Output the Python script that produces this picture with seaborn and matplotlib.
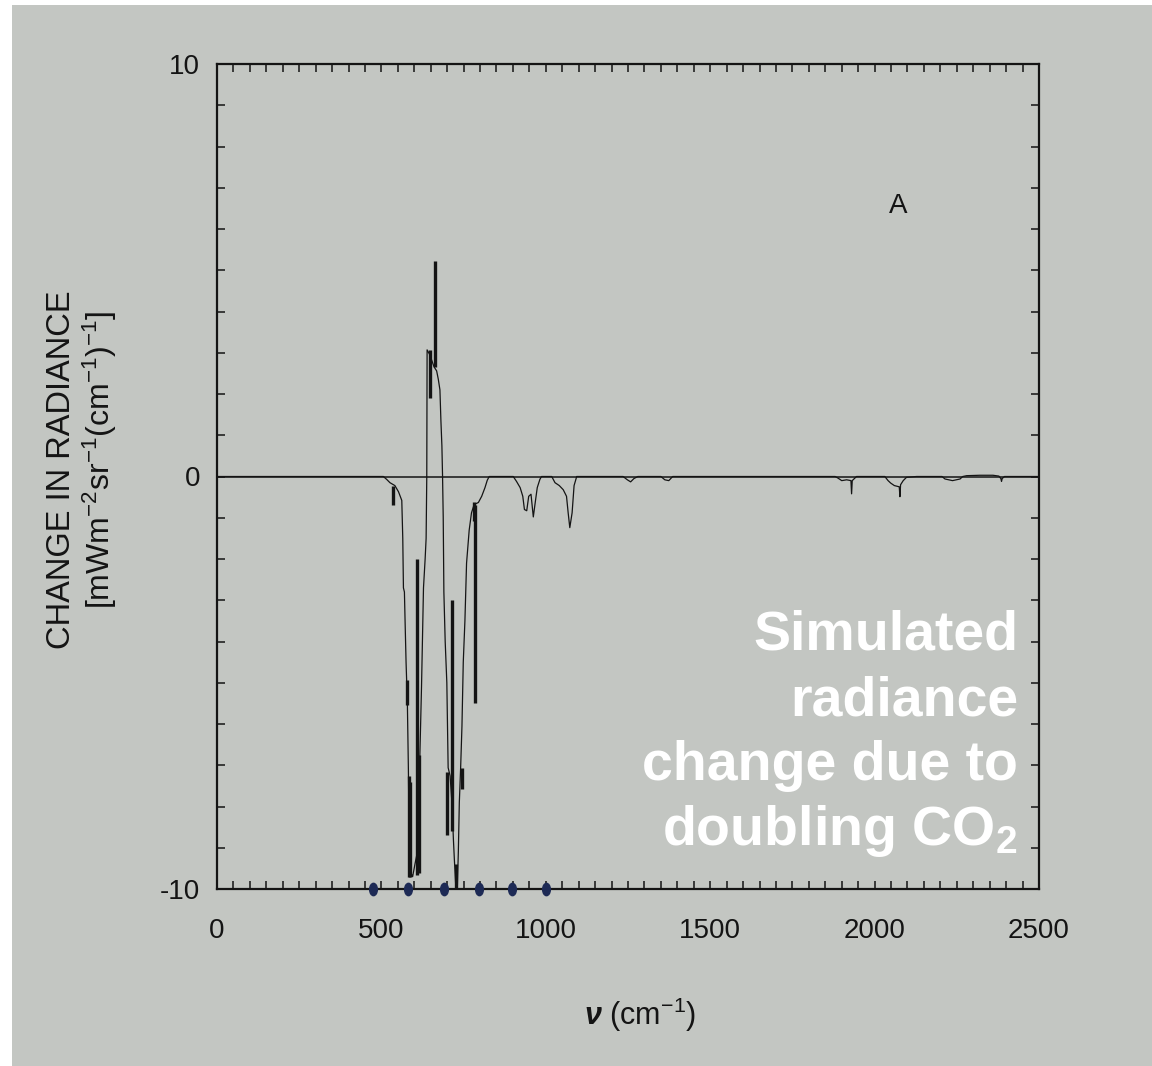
import matplotlib
matplotlib.use("Agg")
import matplotlib.pyplot as plt
from matplotlib.patches import Rectangle
from matplotlib.markers import MarkerStyle
from matplotlib.transforms import Affine2D
from matplotlib.ticker import MultipleLocator
import seaborn as sns

# spectrum trace (cm-1, radiance change)
wavenumber = [
    0, 506, 516, 526, 541, 552, 562, 565, 567, 570, 572, 575, 579, 582, 585, 589,
    595, 602, 612, 617, 622, 628, 633, 636, 638, 639, 646, 653, 660, 668, 673, 678,
    681, 684, 686, 688, 690, 694, 699, 703, 709, 715, 719, 722, 726, 731, 734, 737,
    741, 745, 749, 754, 759, 767, 774, 782, 795, 805, 815, 822, 828,
    901, 911, 922, 930, 935, 942, 948, 955, 962, 967, 974, 982, 987,
    1018, 1028, 1041, 1053, 1063, 1068, 1073, 1080, 1086, 1094,
    1235, 1248, 1258, 1268, 1280, 1350, 1362, 1374, 1386,
    1880, 1889, 1900, 1915, 1928, 1930, 1932, 1945,
    2031, 2041, 2049, 2060, 2075, 2077, 2079, 2087, 2097, 2128,
    2205, 2214, 2237, 2260, 2268, 2280, 2320, 2360, 2378, 2384, 2386, 2388, 2395, 2500,
]
radiance = [
    0, 0, -0.07, -0.15, -0.22, -0.37, -0.58, -1.5, -2.7, -2.8, -3.5, -4.5, -5.5, -7.06, -9.1, -9.6,
    -9.7, -9.4, -9.0, -6.76, -5.1, -2.7, -2.0, -1.5, 0, 3.07, 2.97, 2.82, 2.66, 2.56, 2.36, 2.1,
    1.35, 0.74, 0, -0.98, -2.8, -4.0, -5.0, -7.06, -7.26, -7.97, -8.8, -9.3, -9.9, -9.95, -9.1, -7.9,
    -7.06, -6.05, -4.5, -3.5, -2.1, -1.3, -0.88, -0.68, -0.63, -0.48, -0.27, -0.09, 0,
    0, -0.12, -0.27, -0.48, -0.8, -0.83, -0.48, -0.43, -0.98, -0.68, -0.27, -0.07, 0,
    0, -0.15, -0.22, -0.32, -0.48, -0.88, -1.24, -0.88, -0.22, 0,
    0, -0.08, -0.13, -0.05, 0, 0, -0.08, -0.1, 0,
    0, -0.04, -0.1, -0.08, -0.1, -0.42, -0.1, 0,
    0, -0.1, -0.16, -0.22, -0.25, -0.49, -0.2, -0.1, -0.02, 0,
    0, -0.06, -0.1, -0.06, 0, 0.02, 0.03, 0.03, 0.01, -0.05, -0.12, -0.05, 0, 0,
]

# heavy vertical strokes in the CO2 band
bar_x = [534, 578, 583, 588, 607, 615, 649, 663, 701, 714, 727, 744, 783, 785]
bar_top = [-0.22, -4.93, -7.26, -7.4, -2.0, -6.76, 3.07, 5.22, -7.16, -3.0, -9.4, -7.06, -0.63, -0.68]
bar_bot = [-0.68, -5.54, -9.7, -9.7, -9.65, -9.6, 1.9, 2.66, -8.68, -8.6, -10.0, -7.57, -1.08, -5.5]

# pen marks on the x axis
mark_x = [474, 581, 690, 797, 897, 1000]

note_lines = ["Simulated", "radiance", "change due to", r"doubling CO$_{\mathbf{2}}$"]

sns.set_theme(style="ticks")
plt.rcParams["font.family"] = ["Liberation Sans", "DejaVu Sans"]
plt.rcParams["axes.unicode_minus"] = False
plt.rcParams["mathtext.fontset"] = "custom"
plt.rcParams["mathtext.rm"] = "Liberation Sans"
plt.rcParams["mathtext.it"] = "Liberation Sans:italic"
plt.rcParams["mathtext.bf"] = "Liberation Sans:bold"
plt.rcParams["mathtext.bfit"] = "Liberation Sans:italic:bold"

paper = "#c3c6c2"
ink = "#141414"

fig = plt.figure(figsize=(11.52, 10.66), dpi=100, facecolor="white")
fig.patches.append(Rectangle((12 / 1152, 0), 1, 1 - 5 / 1066, transform=fig.transFigure,
                             facecolor=paper, edgecolor="none", zorder=-5))
ax = fig.add_axes([217 / 1152, 1 - 889 / 1066, 822 / 1152, 825 / 1066])
ax.set_facecolor("none")
ax.set_zorder(2)

ax.axhline(0, color=ink, lw=1.1, zorder=2)
sns.lineplot(x=wavenumber, y=radiance, ax=ax, estimator=None, sort=False,
             color=ink, lw=0.9, zorder=3)
ax.vlines(bar_x, bar_bot, bar_top, color=ink, lw=2.4, zorder=4)
ax.scatter(mark_x, [-10] * len(mark_x), s=55, color="#1d2a55",
           marker=MarkerStyle("o", transform=Affine2D().scale(0.75, 1.2)),
           clip_on=False, zorder=5)

ax.set_xlim(0, 2500)
ax.set_ylim(-10, 10)
ax.xaxis.set_major_locator(MultipleLocator(500))
ax.xaxis.set_minor_locator(MultipleLocator(50))
ax.yaxis.set_major_locator(MultipleLocator(10))
ax.yaxis.set_minor_locator(MultipleLocator(1))
ax.tick_params(which="both", direction="in", top=True, right=True, length=6,
               width=1.1, color=ink)
ax.tick_params(axis="x", which="major", pad=21, labelsize=20, labelcolor=ink)
ax.tick_params(axis="y", which="major", pad=12, labelsize=20, labelcolor=ink)
for side in ax.spines.values():
    side.set_color(ink)
    side.set_linewidth(1.6)
ax.set_xlabel("")
ax.set_ylabel("")

ax.text(2071, 6.55, "A", fontsize=20, color=ink, ha="center", va="center")

fig.text(62 / 1152, 1 - 470 / 1066, "CHANGE IN RADIANCE", rotation=90,
         fontsize=23.5, color=ink, ha="center", va="center")
fig.text(100 / 1152, 1 - 460 / 1066, r"[mWm$^{-2}$sr$^{-1}$(cm$^{-1}$)$^{-1}$]",
         rotation=90, fontsize=23, color=ink, ha="center", va="center")
fig.text(640 / 1152, 1 - 1015 / 1066, r"$\mathbfit{\nu}$ (cm$^{-1}$)",
         fontsize=22, color=ink, ha="center", va="center")

for i, line in enumerate(note_lines):
    fig.text(1018 / 1152, 1 - (650 + 65 * i) / 1066, line, fontsize=40,
             fontweight="bold", color="white", ha="right", va="baseline", zorder=6)

fig.savefig("out.png", dpi=100, facecolor=fig.get_facecolor())
